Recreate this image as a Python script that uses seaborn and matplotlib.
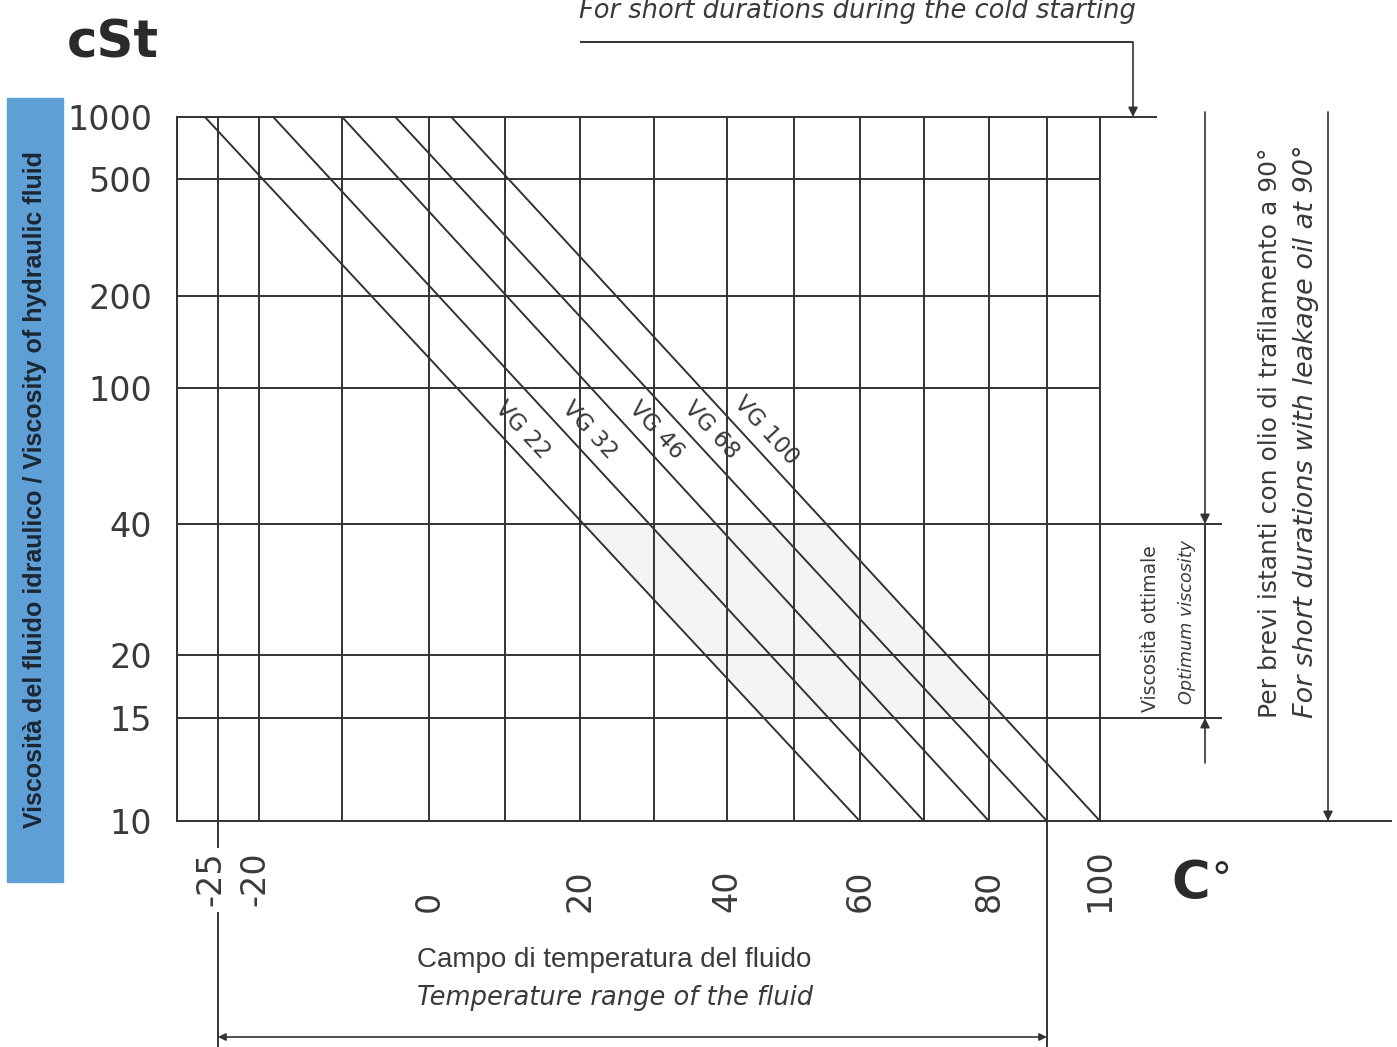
import numpy as np
import pandas as pd
import matplotlib
matplotlib.use("Agg")
import matplotlib.pyplot as plt
import seaborn as sns
from matplotlib.patches import Rectangle
from matplotlib.transforms import ScaledTranslation

# ---------------------------------------------------------------- data
grades = ["VG 22", "VG 32", "VG 46", "VG 68", "VG 100"]
temp_at_1000cst = [-26.6, -18.3, -10.0, -3.9, 2.9]     # °C where each grade reads 1000 cSt
temp_at_10cst = [60, 70, 80, 90, 100]                   # °C where each grade reads 10 cSt

visc_ticks = [10, 15, 20, 40, 100, 200, 500, 1000]
visc_labels = ["10", "15", "20", "40", "100", "200", "500", "1000"]
temp_ticks = [-30, -25, -20, -10, 0, 10, 20, 30, 40, 50, 60, 70, 80, 90, 100]
temp_labels = ["", "-25", "-20", "", "0", "", "20", "", "40", "", "60", "", "80", "", "100"]

optimum_range = (15, 40)          # cSt
temp_range = (-25, 90)            # °C

# ---------------------------------------------------------------- chart paper scales
# printed viscosity/temperature paper: relative positions of the ruled lines
TEMP_RULING = [0, 41, 82, 165, 252, 328, 403, 476, 549, 616, 682, 746, 811, 869, 922]
VISC_RULING = [0, 103, 166, 297, 433, 525, 642, 704]


def paper_scale(grid, ruling, log=False):
    g = np.log10(np.asarray(grid, float)) if log else np.asarray(grid, float)
    p = np.asarray(ruling, float)

    def fwd(x):
        x = np.asarray(x, float)
        if log:
            x = np.log10(np.clip(x, 1e-6, None))
        y = np.interp(x, g, p)
        y = np.where(x < g[0], p[0] + (x - g[0]) * (p[1] - p[0]) / (g[1] - g[0]), y)
        y = np.where(x > g[-1], p[-1] + (x - g[-1]) * (p[-1] - p[-2]) / (g[-1] - g[-2]), y)
        return y

    def inv(y):
        y = np.asarray(y, float)
        x = np.interp(y, p, g)
        x = np.where(y < p[0], g[0] + (y - p[0]) * (g[1] - g[0]) / (p[1] - p[0]), x)
        x = np.where(y > p[-1], g[-1] + (y - p[-1]) * (g[-1] - g[-2]) / (p[-1] - p[-2]), x)
        return 10 ** x if log else x

    return fwd, inv


# ---------------------------------------------------------------- style
sns.set_style("white")
plt.rcParams["font.family"] = ["DejaVu Sans"]
LINE = "#333333"
TXT = "#3a3a3a"
BLUE = "#5e9fd6"
LW = 1.4
ARIAL = ["Liberation Sans", "DejaVu Sans"]

W, H = 1397, 1047
fig = plt.figure(figsize=(W / 100, H / 100), dpi=100)
AX_L, AX_T, AX_R, AX_B = 177, 117, 1100, 821
ax = fig.add_axes([AX_L / W, 1 - AX_B / H, (AX_R - AX_L) / W, (AX_B - AX_T) / H])


def fx(px):
    return px / W


def fy(py):
    return 1 - py / H


def axx(px):
    return (px - AX_L) / (AX_R - AX_L)


def axy(py):
    return (AX_B - py) / (AX_B - AX_T)


ax.set_xscale("function", functions=paper_scale(temp_ticks, TEMP_RULING))
ax.set_yscale("function", functions=paper_scale(visc_ticks, VISC_RULING, log=True))

df = pd.DataFrame({
    "grade": np.repeat(grades, 2),
    "temperature": np.ravel(np.column_stack([temp_at_1000cst, temp_at_10cst])),
    "viscosity": [1000, 10] * len(grades),
})
sns.lineplot(data=df, x="temperature", y="viscosity", units="grade", estimator=None,
             sort=False, color=LINE, lw=LW, legend=False, ax=ax, zorder=3)

ax.set_xlim(-30, 100)
ax.set_ylim(10, 1000)
ax.set_xlabel("")
ax.set_ylabel("")

ax.set_xticks(temp_ticks)
ax.set_xticklabels(temp_labels, rotation=90, va="bottom", ha="center")
ax.set_yticks(visc_ticks)
ax.set_yticklabels(visc_labels)
ax.minorticks_off()
ax.tick_params(length=0, labelsize=24, labelcolor=TXT)
ax.tick_params(axis="x", pad=65.5)
ax.tick_params(axis="y", pad=18)
ax.grid(True, color=LINE, lw=LW)
for s in ax.spines.values():
    s.set_color(LINE)
    s.set_linewidth(LW)

# the two leftmost labels sit slightly left of their rulings
xl = ax.get_xticklabels()
xl[1].set_transform(xl[1].get_transform() + ScaledTranslation(-0.07, 0.06, fig.dpi_scale_trans))
xl[2].set_transform(xl[2].get_transform() + ScaledTranslation(-0.04, 0.06, fig.dpi_scale_trans))


def temp_on_line(t0, t1, v):
    p0 = ax.transData.transform((t0, 1000))
    p1 = ax.transData.transform((t1, 10))
    y = ax.transData.transform((t0, v))[1]
    f = (y - p0[1]) / (p1[1] - p0[1])
    return ax.transData.inverted().transform((p0[0] + f * (p1[0] - p0[0]), y))[0]


# faint band of optimum working viscosity between the extreme grades
lo, hi = optimum_range
ax.fill([temp_on_line(temp_at_1000cst[0], temp_at_10cst[0], hi),
         temp_on_line(temp_at_1000cst[-1], temp_at_10cst[-1], hi),
         temp_on_line(temp_at_1000cst[-1], temp_at_10cst[-1], lo),
         temp_on_line(temp_at_1000cst[0], temp_at_10cst[0], lo)],
        [hi, hi, lo, lo], color="#f4f4f4", lw=0, zorder=0.5)

# grade labels along each line
for g, t0, t1 in zip(grades, temp_at_1000cst, temp_at_10cst):
    p0 = ax.transData.transform((t0, 1000))
    p1 = ax.transData.transform((t1, 10))
    ang = np.degrees(np.arctan2(p1[1] - p0[1], p1[0] - p0[0]))
    pt = ax.transData.inverted().transform(p0 + 0.445 * (p1 - p0))
    ax.annotate(g, xy=pt, xytext=(19, 0), textcoords="offset points", rotation=ang,
                rotation_mode="anchor", ha="center", va="center", fontsize=16.5,
                color=TXT, zorder=4)

# ruled lines carried past the grid
ytr = ax.get_yaxis_transform()
xtr = ax.get_xaxis_transform()
line_kw = dict(color=LINE, lw=LW, clip_on=False, solid_capstyle="butt")
ax.plot([1, axx(1157)], [1000, 1000], transform=ytr, **line_kw)
ax.plot([1, axx(1222)], [hi, hi], transform=ytr, **line_kw)
ax.plot([1, axx(1222)], [lo, lo], transform=ytr, **line_kw)
ax.plot([1, axx(1392)], [10, 10], transform=ytr, **line_kw)

arrow = dict(arrowstyle="-|>", color=LINE, lw=1.2, mutation_scale=14, shrinkA=0, shrinkB=0)

# cold-start bracket from above
ax.plot([axx(580), axx(1133)], [axy(42), axy(42)], transform=ax.transAxes, **line_kw)
ax.annotate("", xy=(axx(1133), 1000), xycoords=ytr,
            xytext=(axx(1133), axy(42)), textcoords=ax.transAxes, arrowprops=arrow)

# optimum viscosity bracket
ax.annotate("", xy=(axx(1205), hi), xycoords=ytr,
            xytext=(axx(1205), axy(112)), textcoords=ax.transAxes, arrowprops=arrow)
ax.plot([axx(1205), axx(1205)], [hi, lo], transform=ytr, **line_kw)
ax.annotate("", xy=(axx(1205), lo), xycoords=ytr,
            xytext=(axx(1205), axy(763)), textcoords=ax.transAxes, arrowprops=arrow)

# leakage-oil bracket
ax.annotate("", xy=(axx(1328), 10), xycoords=ytr,
            xytext=(axx(1328), axy(112)), textcoords=ax.transAxes, arrowprops=arrow)

# temperature range bracket
t_lo, t_hi = temp_range
ax.plot([t_lo, t_lo], [0, axy(848)], transform=xtr, **line_kw)
ax.plot([t_lo, t_lo], [axy(912), axy(1047)], transform=xtr, **line_kw)
ax.plot([t_hi, t_hi], [0, axy(1047)], transform=xtr, **line_kw)
ax.annotate("", xy=(t_lo, axy(1037)), xycoords=xtr, xytext=(t_hi, axy(1037)),
            textcoords=xtr,
            arrowprops=dict(arrowstyle="<|-|>", color=LINE, lw=1.2, mutation_scale=11,
                            shrinkA=0, shrinkB=0))

# ---------------------------------------------------------------- texts
fig.add_artist(Rectangle((fx(7), fy(882)), fx(63) - fx(7), fy(98) - fy(882),
                         transform=fig.transFigure, color=BLUE, zorder=0))
fig.text(fx(35), fy(490), "Viscosità del fluido idraulico / Viscosity of hydraulic fluid",
         rotation=90, ha="center", va="center", fontsize=18, color="#1c2733",
         family=ARIAL, fontweight="bold")

fig.text(fx(67), fy(57), "cSt", fontsize=37, fontweight="bold", color="#2b2b2b",
         ha="left", va="baseline")
fig.text(fx(1171), fy(899), "C", fontsize=38, fontweight="bold", color="#2b2b2b",
         ha="left", va="baseline")
fig.text(fx(1212), fy(893), "°", fontsize=32, family=ARIAL, color="#2b2b2b",
         ha="left", va="baseline")

fig.text(fx(857), fy(18), "For short durations during the cold starting", fontsize=18.5,
         style="italic", color=TXT, ha="center", va="baseline")

fig.text(fx(614), fy(960), "Campo di temperatura del fluido", fontsize=20,
         family=ARIAL, color=TXT, ha="center", va="center")
fig.text(fx(615), fy(998), "Temperature range of the fluid", fontsize=18.5, style="italic",
         color=TXT, ha="center", va="center")

fig.text(fx(1270), fy(718), "Per brevi istanti con olio di trafilamento a 90°", rotation=90,
         fontsize=18, color=TXT, ha="center", va="bottom")
fig.text(fx(1306), fy(718), "For short durations with leakage oil at 90°", rotation=90,
         fontsize=19.5, style="italic", color=TXT, ha="center", va="bottom")

fig.text(fx(1150), fy(712), "Viscosità ottimale", rotation=90, fontsize=13.5,
         color=TXT, ha="center", va="bottom")
fig.text(fx(1187), fy(704), "Optimum viscosity", rotation=90, fontsize=12.7, style="italic",
         color=TXT, ha="center", va="bottom")

fig.savefig("out.png", dpi=100)
